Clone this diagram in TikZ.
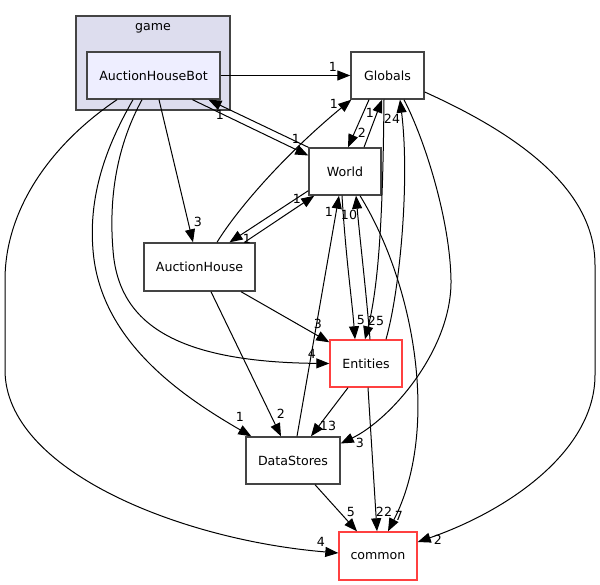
\documentclass[tikz,border=0pt]{standalone}
\usepackage{fontspec}
\setmainfont{DejaVu Sans}
\usepackage{tikz}
\usetikzlibrary{calc,arrows.meta}
\definecolor{boxgray}{HTML}{444444}
\definecolor{boxred}{HTML}{FF4040}
\definecolor{clusterfill}{HTML}{DDDDEE}
\definecolor{botfill}{HTML}{EEEEFF}

\begin{document}
\begin{tikzpicture}[x=1pt,y=-1pt,
    box/.style={draw=boxgray,line width=1.4pt,minimum height=47pt,inner sep=0pt,
        font=\fontsize{12.6}{14}\selectfont},
    redbox/.style={box,draw=boxred},
    dep/.style={line width=1pt,-{Triangle[length=13pt,width=10pt]}},
    lbl/.style={inner sep=0pt,font=\fontsize{12.6}{14}\selectfont}]
    \useasboundingbox (0,0) rectangle (600,585);
    \node[box,fill=clusterfill,minimum width=154pt,minimum height=94pt] (game) at (153,63) {};
    \node[lbl] (gamelbl) at (153,28.5) {game};
    \node[box,fill=botfill,minimum width=133pt] (ahb) at (153.5,75.5) {AuctionHouseBot};
    \node[box,minimum width=73pt] (glob) at (387.5,75.5) {Globals};
    \node[box,minimum width=72pt] (world) at (345,171.5) {World};
    \node[box,minimum width=111pt,minimum height=48pt] (ah) at (199.5,267) {AuctionHouse};
    \node[redbox,minimum width=72pt] (ent) at (366,363.5) {Entities};
    \node[box,minimum width=94pt] (ds) at (293,460.5) {DataStores};
    \node[redbox,minimum width=78pt,minimum height=48pt] (common) at (378,556) {common};

    % AuctionHouseBot
    \draw[dep] (ahb) -- (glob);
    \draw[dep] ($(ahb.south)+(39,0)$) -- ($(world.west)+(0,-16)$);
    \draw[dep] (world.north west) -- ($(ahb.south)+(55,0)$);
    \draw[dep] ($(ahb.south)+(5.5,0)$) -- ($(ah.north)+(-6.5,0)$);
    \draw[dep] ($(ahb.south)+(-20.5,0)$) .. controls (110,140) and (88,190) .. (93,250)
        .. controls (100,340) and (180,395) .. ($(ds.north west)+(6,0)$);
    \draw[dep] ($(ahb.south)+(-11.5,0)$) .. controls (120,140) and (108,190) .. (113,250)
        .. controls (118,320) and (170,362) .. (ent.west);
    \draw[dep] ($(ahb.south)+(-36.5,0)$) .. controls (50,145) and (5,210) .. (5,280) -- (5,370)
        .. controls (5,470) and (180,540) .. ($(common.west)+(0,-3)$);

    % AuctionHouse
    \draw[dep] ($(ah.north)+(17.5,0)$) .. controls (240,205) and (290,150) .. ($(glob.south west)+(1,0)$);
    \draw[dep] ($(world.south west)+(0,-5)$) -- ($(ah.north)+(30,0)$);
    \draw[dep] ($(ah.north)+(45,0)$) -- ($(world.south west)+(6,0)$);
    \draw[dep] ($(ah.south)+(41.5,0)$) -- ($(ent.north west)+(0,3)$);
    \draw[dep] ($(ah.south)+(11.5,0)$) -- ($(ds.north)+(-12,0)$);

    % Globals and World
    \draw[dep] ($(glob.south)+(-18.5,0)$) -- ($(world.north)+(3,0)$);
    \draw[dep] ($(world.north)+(19,0)$) -- ($(glob.south)+(-5.5,0)$);
    \draw[dep] ($(glob.south)+(-3.5,0)$) .. controls (383,200) and (380,280) .. ($(ent.north)+(-1,0)$);
    \draw[dep] ($(ent.north)+(20,0)$) .. controls (400,290) and (410,180) .. ($(glob.south)+(12.5,0)$);
    \draw[dep] ($(glob.south)+(16.5,0)$) .. controls (425,140) and (450,220) .. (451,280)
        .. controls (452,350) and (390,420) .. ($(ds.east)+(0,-17)$);
    \draw[dep] ($(glob.east)+(0,16.5)$) .. controls (520,135) and (595,190) .. (595,265) -- (595,375)
        .. controls (595,450) and (510,510) .. ($(common.east)+(0,-14)$);
    \draw[dep] ($(world.south)+(-3,0)$) .. controls (346,260) and (352,300) .. ($(ent.north)+(-11,0)$);
    \draw[dep] ($(ent.north)+(4,0)$) .. controls (366,290) and (360,240) .. ($(world.south)+(11,0)$);
    \draw[dep] ($(ds.north)+(4,0)$) -- ($(world.south)+(-6,0)$);
    \draw[dep] ($(world.south)+(15,0)$) .. controls (415,285) and (440,430) .. ($(common.north)+(10,0)$);

    % Entities and DataStores
    \draw[dep] ($(ent.south)+(2,0)$) -- ($(common.north)+(-1,0)$);
    \draw[dep] ($(ent.south)+(-18,0)$) -- ($(ds.north)+(18,0)$);
    \draw[dep] ($(ds.south)+(22,0)$) -- ($(common.north)+(-21,0)$);

    \foreach \x/\y/\t [count=\i] in {333/67/1, 296/139/1, 220/115/1, 198/222/3, 240/417/1,
        312/354/4, 321/542/4, 334/104/1, 247/239/1, 297/199/1, 318/324/3, 281/414/2,
        362/133/2, 370/113/1, 376/321/25, 392/119/24, 360/443/3, 438/540/2, 361/320/5,
        349/215/10, 329/212/1, 399/516/7, 384/512/22, 328/426/13, 351/512/5}
        \node[lbl] (n\i) at (\x,\y) {\t};
\end{tikzpicture}
\end{document}
